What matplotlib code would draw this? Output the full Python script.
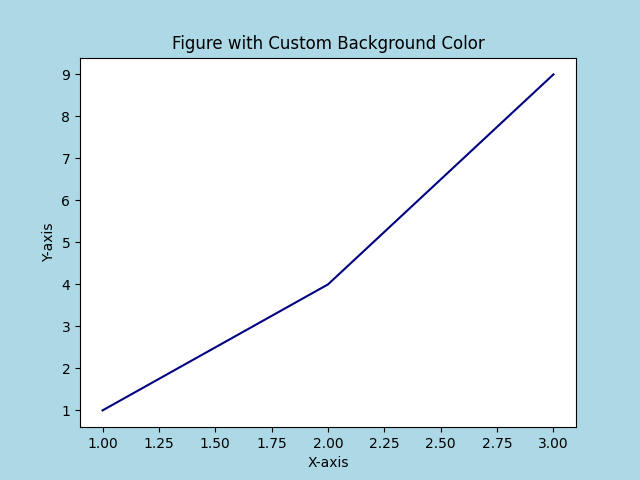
import matplotlib
matplotlib.use('Agg')
import matplotlib.pyplot as plt

x = [1, 2, 3]
y = [1, 4, 9]

fig = plt.figure(figsize=(6.4, 4.8), dpi=100, facecolor='lightblue')
plt.plot(x, y, color='navy')
plt.title('Figure with Custom Background Color')
plt.xlabel('X-axis')
plt.ylabel('Y-axis')
plt.savefig('out.png', facecolor=fig.get_facecolor())
